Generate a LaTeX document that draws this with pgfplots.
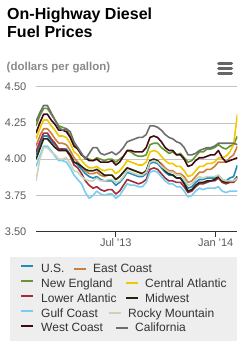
\documentclass[border=0pt]{standalone}
\usepackage{pgfplots}
\pgfplotsset{compat=1.18}
\usepackage{pgfplotstable}
\usepackage{fontspec}
\setmainfont{Liberation Sans}
\definecolor{cUS}{RGB}{30,140,190}
\definecolor{cEC}{RGB}{205,125,60}
\definecolor{cNE}{RGB}{100,150,50}
\definecolor{cCA}{RGB}{240,200,0}
\definecolor{cLA}{RGB}{160,45,60}
\definecolor{cMW}{RGB}{40,35,15}
\definecolor{cGC}{RGB}{120,205,240}
\definecolor{cRM}{RGB}{200,212,185}
\definecolor{cWC}{RGB}{65,10,15}
\definecolor{cCAL}{RGB}{110,110,110}
\definecolor{subgray}{RGB}{138,138,138}
\definecolor{icongray}{RGB}{102,102,102}
\definecolor{ticktext}{RGB}{90,90,90}
\definecolor{legtext}{RGB}{51,51,51}
\definecolor{legbg}{RGB}{238,238,238}
\definecolor{gridc}{RGB}{195,195,195}
\newcommand{\legline}[1]{\textcolor{#1}{\rule[0.25em]{12pt}{2pt}}}
\newcommand{\legpair}[4]{\makebox[#1][l]{#2}\legline{#3}\hspace{7pt}#4}
% weekly prices, week 0 = 4 Feb 2013
\pgfplotstableread{
w us ec ne ca la mw gc rm wc cal
0 4.03 4.09 4.23 4.14 4.05 4.00 3.95 3.85 4.18 4.26
1 4.10 4.16 4.30 4.21 4.12 4.07 4.02 4.00 4.25 4.32
2 4.16 4.21 4.35 4.27 4.18 4.14 4.09 4.08 4.31 4.37
3 4.16 4.21 4.35 4.27 4.18 4.14 4.09 4.08 4.31 4.37
4 4.13 4.18 4.31 4.23 4.14 4.11 4.06 4.05 4.27 4.32
5 4.10 4.14 4.27 4.20 4.11 4.08 4.02 4.03 4.24 4.27
6 4.07 4.11 4.23 4.16 4.07 4.06 3.99 4.00 4.20 4.22
7 4.07 4.11 4.22 4.16 4.07 4.06 3.99 4.00 4.20 4.20
8 4.07 4.10 4.21 4.15 4.06 4.06 3.98 4.01 4.19 4.21
9 4.03 4.06 4.16 4.11 4.02 4.03 3.94 3.97 4.15 4.19
10 3.98 4.01 4.10 4.05 3.96 3.98 3.89 3.92 4.09 4.12
11 3.96 3.98 4.07 4.03 3.94 3.97 3.86 3.91 4.07 4.08
12 3.93 3.95 4.03 3.99 3.90 3.95 3.83 3.88 4.03 4.04
13 3.90 3.92 4.01 3.96 3.85 3.93 3.77 3.86 4.01 4.00
14 3.88 3.90 4.00 3.94 3.82 3.92 3.73 3.85 3.99 4.04
15 3.87 3.90 3.99 3.94 3.80 3.92 3.75 3.85 3.99 4.08
16 3.88 3.91 4.01 3.95 3.81 3.93 3.78 3.87 4.00 4.08
17 3.86 3.89 4.00 3.93 3.79 3.91 3.76 3.85 3.98 4.04
18 3.85 3.88 3.99 3.92 3.78 3.89 3.75 3.85 3.98 4.03
19 3.85 3.89 4.00 3.93 3.79 3.89 3.76 3.86 3.98 4.04
20 3.85 3.89 4.00 3.93 3.79 3.89 3.76 3.86 3.99 4.05
21 3.82 3.86 3.98 3.90 3.76 3.86 3.73 3.84 3.96 4.03
22 3.84 3.88 4.00 3.92 3.78 3.88 3.75 3.85 3.98 4.05
23 3.87 3.91 4.02 3.95 3.82 3.91 3.79 3.88 4.02 4.08
24 3.91 3.94 4.06 3.99 3.86 3.94 3.83 3.92 4.06 4.12
25 3.90 3.93 4.05 3.98 3.85 3.93 3.82 3.91 4.06 4.13
26 3.89 3.92 4.03 3.97 3.84 3.92 3.82 3.90 4.05 4.14
27 3.88 3.91 4.02 3.96 3.83 3.91 3.81 3.89 4.05 4.15
28 3.88 3.90 4.02 3.96 3.84 3.90 3.81 3.89 4.05 4.15
29 3.90 3.92 4.03 3.98 3.86 3.92 3.84 3.91 4.08 4.17
30 3.97 3.99 4.10 4.05 3.93 3.99 3.91 3.98 4.15 4.23
31 3.98 4.00 4.11 4.06 3.94 4.00 3.92 3.99 4.16 4.23
32 3.97 3.99 4.11 4.05 3.93 3.99 3.91 3.98 4.15 4.22
33 3.94 3.97 4.08 4.02 3.90 3.95 3.88 3.95 4.12 4.20
34 3.91 3.94 4.06 3.99 3.87 3.92 3.85 3.93 4.08 4.17
35 3.89 3.92 4.04 3.97 3.85 3.90 3.83 3.91 4.06 4.15
36 3.89 3.92 4.05 3.97 3.85 3.89 3.83 3.91 4.06 4.14
37 3.87 3.90 4.03 3.95 3.84 3.87 3.81 3.89 4.03 4.12
38 3.87 3.90 4.04 3.95 3.84 3.87 3.81 3.89 4.03 4.11
39 3.84 3.88 4.01 3.92 3.81 3.83 3.78 3.86 4.00 4.08
40 3.80 3.84 3.98 3.88 3.77 3.78 3.74 3.82 3.95 4.03
41 3.81 3.85 3.99 3.89 3.78 3.79 3.75 3.83 3.96 4.03
42 3.84 3.88 4.02 3.92 3.81 3.82 3.78 3.86 3.99 4.04
43 3.86 3.91 4.05 3.95 3.83 3.84 3.80 3.88 4.01 4.06
44 3.86 3.91 4.05 3.95 3.83 3.84 3.79 3.87 4.01 4.07
45 3.87 3.93 4.07 3.97 3.84 3.85 3.80 3.88 4.02 4.08
46 3.87 3.93 4.07 3.97 3.85 3.85 3.80 3.88 4.03 4.08
47 3.87 3.95 4.08 3.98 3.85 3.86 3.80 3.88 4.03 4.09
48 3.89 3.98 4.10 4.01 3.87 3.88 3.81 3.89 4.06 4.11
49 3.86 3.98 4.08 4.01 3.84 3.85 3.78 3.86 4.01 4.11
50 3.85 3.98 4.07 4.02 3.83 3.84 3.77 3.85 3.98 4.11
51 3.87 4.01 4.09 4.05 3.84 3.85 3.78 3.85 3.99 4.11
52 3.88 4.03 4.10 4.10 3.84 3.85 3.78 3.85 4.00 4.11
53 3.96 4.09 4.16 4.31 3.87 3.88 3.78 3.87 4.01 4.10
}\prices
\begin{document}
\begin{tikzpicture}
\path[use as bounding box] (0pt,0pt) rectangle (243pt,344pt);
\node[anchor=base west, inner sep=0pt, font=\fontsize{16}{18}\selectfont\bfseries] at (7pt,324pt) {On-Highway Diesel};
\node[anchor=base west, inner sep=0pt, font=\fontsize{16}{18}\selectfont\bfseries] at (7pt,306pt) {Fuel Prices};
\node[anchor=base west, inner sep=0pt, font=\fontsize{11.5}{13}\selectfont\bfseries, text=subgray] at (6.5pt,273pt) {(dollars per gallon)};
\foreach \yy in {280.3,275.3,270.3} {\draw[line width=3pt, line cap=round, color=icongray] (218.5pt,\yy pt) -- (231.5pt,\yy pt);}
\begin{axis}[
  at={(36pt,112.3pt)}, anchor=south west,
  scale only axis, width=201.4pt, height=145pt,
  xmin=0, xmax=53, ymin=3.5, ymax=4.5,
  axis x line=bottom, axis y line=left,
  axis line style={-},
  x axis line style={draw=black!80, line width=0.8pt},
  y axis line style={draw=none},
  ytick={3.5,3.75,4,4.25,4.5},
  yticklabels={3.50,3.75,4.00,4.25,4.50},
  xtick={21,47.2857},
  xticklabels={Jul \textquotesingle13,Jan \textquotesingle14},
  ymajorgrids, grid style={gridc, line width=0.8pt},
  ytick style={draw=none},
  xtick style={draw=black!80, line width=0.8pt},
  xtick align=outside, major tick length=5pt,
  yticklabel style={font=\fontsize{11}{13}\selectfont, text=ticktext, inner sep=0pt, xshift=-7pt},
  xticklabel style={font=\fontsize{11}{13}\selectfont, text=ticktext, inner sep=0pt, yshift=-2pt},
  every axis plot/.append style={line width=1.6pt, line join=round},
  legend image code/.code={\draw[#1, line width=2pt, line cap=butt] (0pt,0.33em) -- (12pt,0.33em);},
  legend style={at={(-0.129,-0.1745)}, anchor=north west, fill=legbg, draw=none,
    inner xsep=10pt, inner ysep=5pt, font=\fontsize{12}{14}\selectfont, text=legtext,
    nodes={inner xsep=0pt, inner ysep=1.4pt, text height=9pt, text depth=3pt},
    /tikz/every odd column/.append style={column sep=7pt}},
  legend cell align=left,
]
\addplot[color=cUS] table[x=w,y=us]{\prices};
\addlegendentry{\legpair{33pt}{U.S.}{cEC}{East Coast}}
\addplot[color=cEC, forget plot] table[x=w,y=ec]{\prices};
\addplot[color=cNE] table[x=w,y=ne]{\prices};
\addlegendentry{\legpair{85pt}{New England}{cCA}{Central Atlantic}}
\addplot[color=cCA, forget plot] table[x=w,y=ca]{\prices};
\addplot[color=cLA] table[x=w,y=la]{\prices};
\addlegendentry{\legpair{85pt}{Lower Atlantic}{cMW}{Midwest}}
\addplot[color=cMW, forget plot] table[x=w,y=mw]{\prices};
\addplot[color=cGC] table[x=w,y=gc]{\prices};
\addlegendentry{\legpair{68pt}{Gulf Coast}{cRM}{Rocky Mountain}}
\addplot[color=cRM, forget plot] table[x=w,y=rm]{\prices};
\addplot[color=cWC] table[x=w,y=wc]{\prices};
\addlegendentry{\legpair{75pt}{West Coast}{cCAL}{California}}
\addplot[color=cCAL, forget plot] table[x=w,y=cal]{\prices};
\end{axis}
\end{tikzpicture}
\end{document}
